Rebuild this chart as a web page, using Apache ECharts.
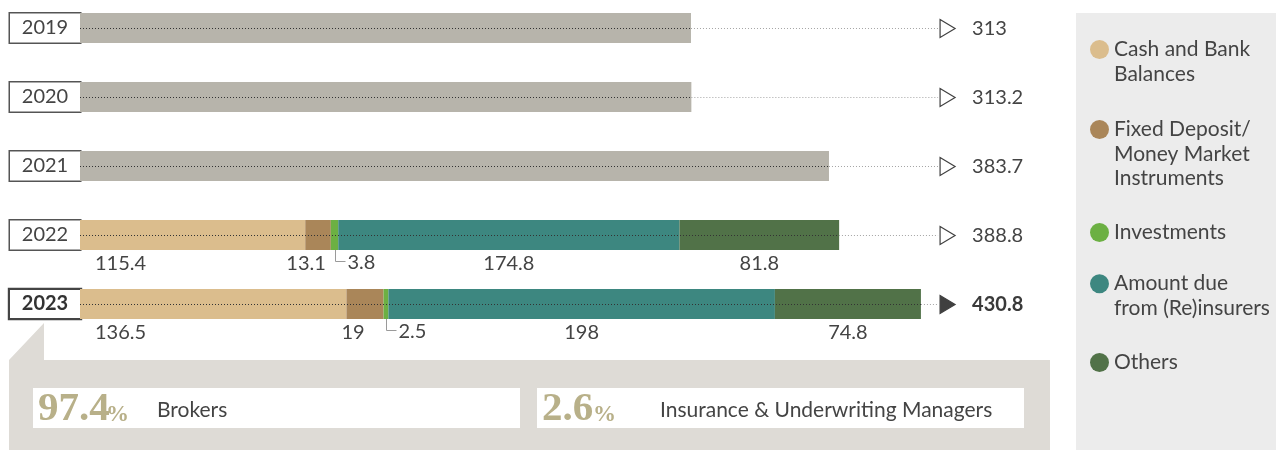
<!DOCTYPE html>
<html>
<head>
<meta charset="utf-8">
<script src="https://cdn.jsdelivr.net/npm/echarts@6/dist/echarts.min.js"></script>
<style>
html, body { margin: 0; padding: 0; background: #fff; }
#chart { width: 1276px; height: 450px; }
</style>
</head>
<body>
<div id="chart"></div>
<script>
var years = ['2019', '2020', '2021', '2022', '2023'];
var totalOnly = [313, 313.2, 383.7, '-', '-'];
var cash = ['-', '-', '-', 115.4, 136.5];
var fixedDeposit = ['-', '-', '-', 13.1, 19];
var investments = ['-', '-', '-', 3.8, 2.5];
var dueFromReinsurers = ['-', '-', '-', 174.8, 198];
var others = ['-', '-', '-', 81.8, 74.8];
var totals = [313, 313.2, 383.7, 388.8, 430.8];

var seriesNames = ['Cash and Bank Balances', 'Fixed Deposit/Money Market Instruments', 'Investments',
    'Amount due from (Re)insurers', 'Others'];
var legendText = ['Cash and Bank\nBalances', 'Fixed Deposit/\nMoney Market\nInstruments', 'Investments',
    'Amount due\nfrom (Re)insurers', 'Others'];

var shareValues = ['97.4', '2.6'];
var shareLabels = ['Brokers', 'Insurance & Underwriting Managers'];

// layout bits
var ARROW_AT = 444.2;
var BAR_H = 30;
var LEG_LH = 24.5;
var TXT = '#444';
var FONT = 'Lato';
var colors = ['#dbbd8d', '#aa8659', '#6cb043', '#3d8780', '#517248'];
var legendIconY = [49.5, 129.5, 232.5, 283.7, 362.5];

var chart = echarts.init(document.getElementById('chart'));

function barSeries(name, data, color, label) {
    return {
        name: name,
        type: 'bar',
        stack: 'total',
        barWidth: BAR_H,
        clip: false,
        data: data,
        itemStyle: { color: color },
        label: label
    };
}

var baseLabel = { show: true, color: TXT, fontSize: 20, fontFamily: FONT, formatter: '{c}' };

var invData = [];
investments.forEach(function(v, i) {
    if (v !== '-') invData.push([cash[i] + fixedDeposit[i], v, i]);
});

// legend icon sits on the first text line: pad the block with blank lines on top
var legends = seriesNames.map(function(name, k) {
    var lines = legendText[k].split('\n');
    var pad = [];
    for (var j = 1; j < lines.length; j++) pad.push(' ');
    var txt = pad.concat(lines).join('\n');
    return {
        data: [name],
        orient: 'vertical',
        left: 1090,
        top: legendIconY[k] - (2 * lines.length - 1) * LEG_LH / 2,
        padding: 0,
        itemWidth: 19,
        itemHeight: 19,
        icon: 'circle',
        selectedMode: false,
        formatter: function() { return txt; },
        textStyle: { fontSize: 21, lineHeight: LEG_LH, color: TXT, fontFamily: FONT }
    };
});

var option = {
    animation: false,
    textStyle: { fontFamily: FONT },
    grid: { left: 80, top: 28, width: 976, height: 276, outerBoundsMode: 'none' },
    xAxis: { type: 'value', min: 0, max: 500, show: false },
    yAxis: {
        type: 'category',
        inverse: true,
        boundaryGap: false,
        data: years,
        axisLine: { show: false },
        axisTick: { show: false },
        splitLine: { show: false },
        axisLabel: {
            margin: 0,
            formatter: function(v) {
                return v === '2023' ? '{hl|' + v + '}' : '{n|' + v + '}';
            },
            rich: {
                n: { width: 70, height: 29, align: 'center', fontSize: 20, fontFamily: FONT, color: TXT,
                    backgroundColor: '#fff', borderColor: '#555', borderWidth: 1.5 },
                hl: { width: 70, height: 28, align: 'center', fontSize: 20, fontFamily: FONT, fontWeight: 'bold',
                    color: '#333', backgroundColor: '#fff', borderColor: '#444', borderWidth: 2.2 }
            }
        }
    },
    legend: legends,
    graphic: [
        { type: 'rect', shape: { x: 1076, y: 13, width: 200, height: 437 }, style: { fill: '#ececec' }, z: -1 },
        { type: 'polygon', shape: { points: [[44, 323], [44, 360], [1050, 360], [1050, 450], [9, 450], [9, 360]] },
            style: { fill: '#dedbd6' }, z: -1 },
        { type: 'rect', shape: { x: 33, y: 388, width: 487, height: 40 }, style: { fill: '#fff' } },
        { type: 'rect', shape: { x: 537, y: 388, width: 487, height: 40 }, style: { fill: '#fff' } },
        { type: 'text', x: 38, y: 409, style: { text: shareValues[0], fontSize: 41, fontWeight: 'bold',
            fontFamily: 'Liberation Serif', fill: '#b8b089', verticalAlign: 'middle' } },
        { type: 'text', x: 106, y: 415, style: { text: '%', fontSize: 23, fontWeight: 'bold',
            fontFamily: 'Liberation Serif', fill: '#b8b089', verticalAlign: 'middle' } },
        { type: 'text', x: 157, y: 410, style: { text: shareLabels[0], fontSize: 21, fontFamily: FONT,
            fill: TXT, verticalAlign: 'middle' } },
        { type: 'text', x: 542, y: 409, style: { text: shareValues[1], fontSize: 41, fontWeight: 'bold',
            fontFamily: 'Liberation Serif', fill: '#b8b089', verticalAlign: 'middle' } },
        { type: 'text', x: 593, y: 415, style: { text: '%', fontSize: 23, fontWeight: 'bold',
            fontFamily: 'Liberation Serif', fill: '#b8b089', verticalAlign: 'middle' } },
        { type: 'text', x: 660, y: 410, style: { text: shareLabels[1], fontSize: 21, fontFamily: FONT,
            fill: TXT, verticalAlign: 'middle' } }
    ],
    series: [
        barSeries('Total', totalOnly, '#b7b4ab', { show: false }),
        barSeries(seriesNames[0], cash, colors[0], Object.assign({}, baseLabel, { position: [15, 34] })),
        barSeries(seriesNames[1], fixedDeposit, colors[1], Object.assign({}, baseLabel, { position: 'bottom', distance: 4, offset: [-12, 0] })),
        barSeries(seriesNames[2], investments, colors[2], { show: false }),
        barSeries(seriesNames[3], dueFromReinsurers, colors[3], Object.assign({}, baseLabel, { position: 'bottom', distance: 4 })),
        barSeries(seriesNames[4], others, colors[4], Object.assign({}, baseLabel, { position: 'bottom', distance: 4 })),
        {
            // small investments values get a leader line
            type: 'custom',
            encode: { x: 0, y: 2 },
            data: invData,
            z: 5,
            renderItem: function(params, api) {
                var s = api.value(0), v = api.value(1), i = api.value(2);
                var c = api.coord([s + v / 2, i]);
                var yb = c[1] + BAR_H / 2;
                var x = Math.round(c[0]) + 0.5;
                return {
                    type: 'group',
                    children: [{
                        type: 'polyline',
                        shape: { points: [[x, yb], [x, yb + 11.5], [x + 10, yb + 11.5]] },
                        style: { stroke: '#9a9a9a', lineWidth: 1, fill: null }
                    }, {
                        type: 'text',
                        x: x + 12,
                        y: yb + 13,
                        style: { text: String(v), fontSize: 20, fontFamily: FONT, fill: TXT, verticalAlign: 'middle' }
                    }]
                };
            }
        },
        {
            type: 'custom',
            encode: { x: 0, y: 1 },
            data: totals.map(function(t, i) { return [t, i]; }),
            z: 5,
            renderItem: function(params, api) {
                var total = api.value(0), i = api.value(1);
                var start = api.coord([0, i]);
                var end = api.coord([total, i]);
                var ax = api.coord([ARROW_AT, i])[0];
                var y = Math.round(start[1]) + 0.5;
                var last = i === years.length - 1;
                return {
                    type: 'group',
                    children: [{
                        type: 'line',
                        shape: { x1: end[0], y1: y, x2: ax - 9, y2: y },
                        style: { stroke: '#a5a5a5', lineWidth: 1.2, lineDash: [1, 2] }
                    }, {
                        type: 'line',
                        shape: { x1: start[0], y1: y, x2: end[0], y2: y },
                        style: { stroke: '#333', lineWidth: 1.2, lineDash: [1, 2] }
                    }, {
                        type: 'polygon',
                        shape: { points: [[ax - 7, y - 9], [ax + 8, y], [ax - 7, y + 9]] },
                        style: { fill: last ? '#404040' : '#fff', stroke: '#404040', lineWidth: 1.2 }
                    }, {
                        type: 'text',
                        x: ax + 25,
                        y: y,
                        style: { text: String(total), fontSize: 20, fontFamily: FONT, fontWeight: last ? 'bold' : 'normal',
                            fill: last ? '#3a3a3a' : TXT, verticalAlign: 'middle' }
                    }]
                };
            }
        }
    ]
};

chart.setOption(option);
</script>
</body>
</html>
